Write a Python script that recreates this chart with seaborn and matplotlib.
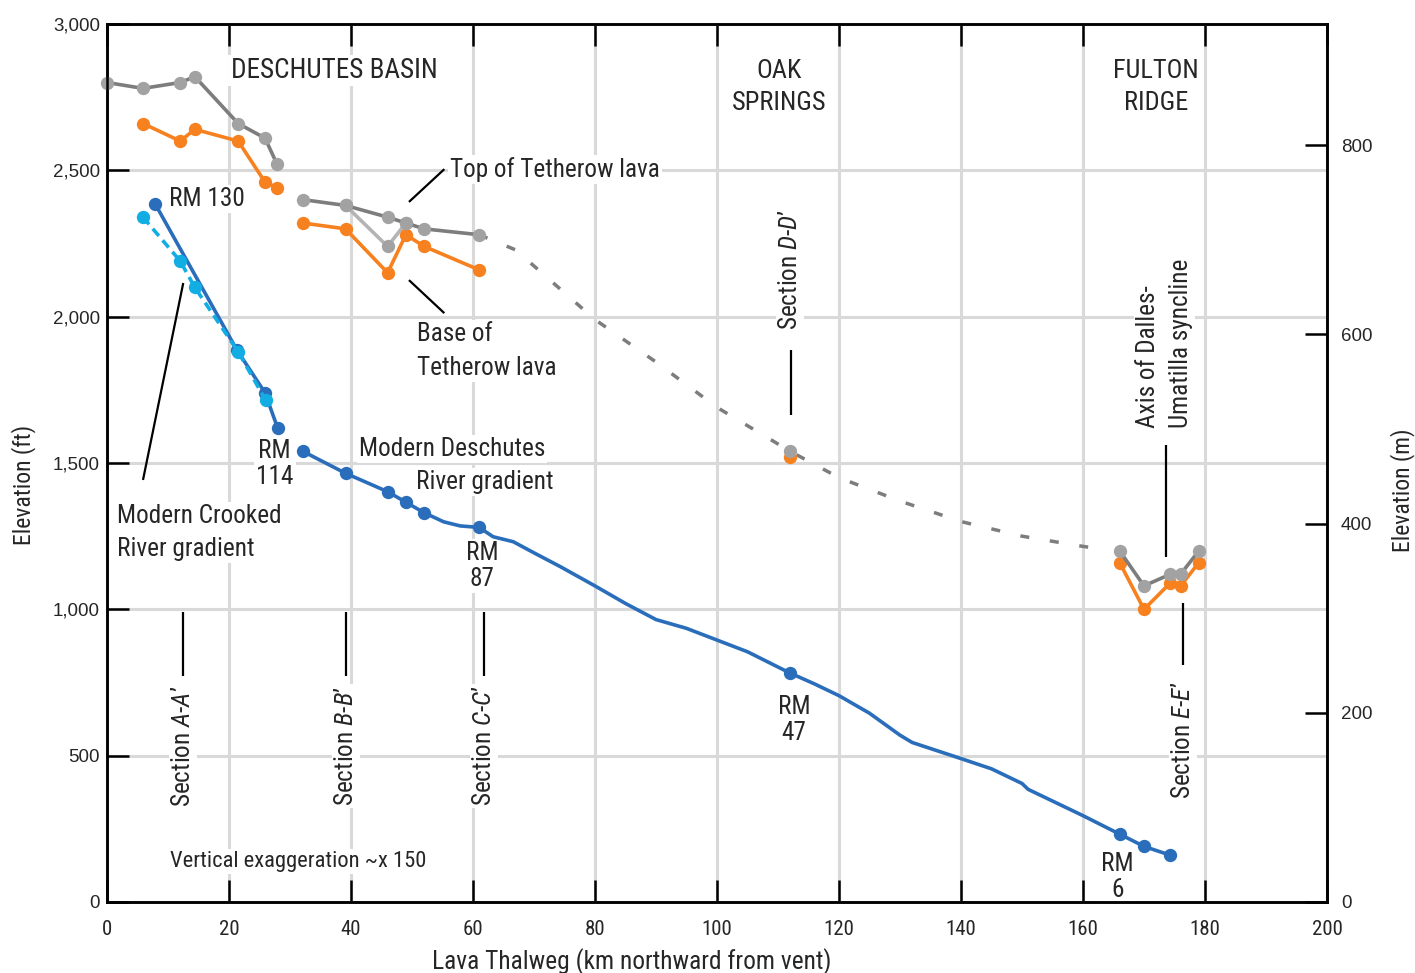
import numpy as np
import pandas as pd
import matplotlib
matplotlib.use("Agg")
import matplotlib.pyplot as plt
from matplotlib import font_manager
import seaborn as sns

# ---------------------------------------------------------------- data
# distance along the lava thalweg (km) and elevation (ft)

# top of the Tetherow lava, Deschutes basin reaches
top1_km = [0, 5.9, 12.0, 14.4, 21.5, 25.9, 27.9]
top1_ft = [2800, 2780, 2800, 2820, 2660, 2610, 2520]
top2_km = [32.1, 39.1, 46.0, 49.0, 52.0, 61.0]
top2_ft = [2400, 2380, 2340, 2320, 2300, 2280]
top2_alt_km = [39.1, 46.0, 49.0]
top2_alt_ft = [2380, 2240, 2320]

# base of the Tetherow lava
base1_km = [5.9, 12.0, 14.4, 21.5, 25.9, 27.9]
base1_ft = [2660, 2600, 2640, 2600, 2460, 2440]
base2_km = [32.1, 39.1, 46.0, 49.0, 52.0, 61.0]
base2_ft = [2320, 2300, 2150, 2280, 2240, 2160]

# Oak Springs outcrop
oak_km = [112.0]
oak_top_ft = [1540]
oak_base_ft = [1520]

# Fulton Ridge outcrops
fulton_km = [166, 170, 174.3, 176, 179]
fulton_top_ft = [1200, 1080, 1120, 1120, 1200]
fulton_base_ft = [1160, 1000, 1090, 1080, 1160]

# inferred lava top between outcrops
inferred_km = [61, 67, 80, 90, 100, 112, 120, 130, 140, 150, 160, 163.5]
inferred_ft = [2280, 2228, 1990, 1845, 1690, 1540, 1450, 1370, 1300, 1250, 1215, 1205]

# modern Crooked River gradient (two profiles)
crook_km = [7.9, 21.3, 25.9, 28.0]
crook_ft = [2385, 1886, 1740, 1618]
crook_alt_km = [5.9, 12.0, 14.4, 21.5, 26.0]
crook_alt_ft = [2340, 2190, 2100, 1880, 1715]

# modern Deschutes River gradient
desch_km = [32.1, 39.1, 46.0, 49.0, 52.0, 55.2, 57.9, 61.0, 63.3, 66.6, 70, 74.3,
            80, 85, 90, 95, 100, 105, 112, 116, 120, 125, 130, 132, 140, 145,
            150, 151, 160, 166, 170, 174.3]
desch_ft = [1540, 1465, 1402, 1366, 1330, 1299, 1285, 1280, 1248, 1231, 1193, 1146,
            1080, 1020, 965, 935, 895, 855, 782, 745, 705, 645, 570, 545, 490, 455,
            405, 385, 295, 232, 190, 160]
desch_marked = [0, 1, 2, 3, 4, 7, 18, 29, 30, 31]

x_ticks = list(range(0, 201, 20))
y_ticks_ft = list(range(0, 3001, 500))
y_ticks_m = [0, 200, 400, 600, 800]

# ---------------------------------------------------------------- style
sns.set_theme(style="white")
installed = {f.name for f in font_manager.fontManager.ttflist}
COND = next((n for n in ["Liberation Sans Narrow", "Roboto Condensed", "Open Sans Condensed"]
             if n in installed), "Liberation Sans")
K = 1.0 if COND != "Liberation Sans" else 0.84
plt.rcParams["font.family"] = [COND, "DejaVu Sans"]
plt.rcParams["mathtext.fontset"] = "custom"
plt.rcParams["mathtext.rm"] = COND
plt.rcParams["mathtext.it"] = COND + ":italic"
plt.rcParams["axes.linewidth"] = 1.8

GRAY = "#7d7d7d"
GRAY_MK = "#a2a2a2"
GRAY_LT = "#b4b4b4"
ORANGE = "#f7811f"
BLUE = "#2a6ebb"
CYAN = "#12ade3"
GRID = "#d9d9d9"
TXT = 18.2 * K

fig = plt.figure(figsize=(14.15, 9.73), dpi=100)
ax = fig.add_axes([107 / 1415, 1 - 902 / 973, 1220 / 1415, 878 / 973])
ax.set_xlim(0, 200)
ax.set_ylim(0, 3000)
ax.set_axisbelow(True)
ax.grid(True, color=GRID, linewidth=2.2)
for s in ax.spines.values():
    s.set_color("black")
    s.set_linewidth(1.8)


def trace(km, ft, color, mcolor=None, ls="-", marker="o", lw=2.6, z=4):
    sns.lineplot(x=km, y=ft, ax=ax, color=color, linewidth=lw, linestyle=ls,
                 marker=marker, markersize=9.6, markerfacecolor=mcolor or color,
                 markeredgewidth=0, sort=False, estimator=None, clip_on=False,
                 zorder=z, legend=False)


# inferred connection (dotted)
sns.lineplot(x=inferred_km, y=inferred_ft, ax=ax, color=GRAY, linewidth=2.5,
             linestyle=(0, (2.6, 6.0)), sort=False, estimator=None, zorder=3,
             legend=False)

# lava top / base
trace(top2_alt_km, top2_alt_ft, GRAY_LT, GRAY_MK, z=3.5)
trace(base1_km, base1_ft, ORANGE)
trace(base2_km, base2_ft, ORANGE)
trace(oak_km, oak_base_ft, ORANGE)
trace(fulton_km, fulton_base_ft, ORANGE)
trace(top1_km, top1_ft, GRAY, GRAY_MK, z=5)
trace(top2_km, top2_ft, GRAY, GRAY_MK, z=5)
trace(oak_km, oak_top_ft, GRAY, GRAY_MK, z=5)
trace(fulton_km, fulton_top_ft, GRAY, GRAY_MK, z=5)

# modern river gradients
trace(crook_km, crook_ft, BLUE, z=4)
trace(crook_alt_km, crook_alt_ft, CYAN, ls=(0, (2.6, 1.6)), z=4.5)
sns.lineplot(x=desch_km, y=desch_ft, ax=ax, color=BLUE, linewidth=2.6, sort=False,
             estimator=None, zorder=4, legend=False)
sns.scatterplot(x=[desch_km[i] for i in desch_marked], y=[desch_ft[i] for i in desch_marked],
                ax=ax, color=BLUE, s=92, linewidth=0, zorder=4.5, legend=False)

# ---------------------------------------------------------------- axes
ax.set_xticks(x_ticks, labels=[str(v) for v in x_ticks], fontsize=15 * K, family=COND)
ax.set_yticks(y_ticks_ft, labels=[f"{v:,}" for v in y_ticks_ft], fontsize=13.5,
              family="Liberation Sans")
ax.tick_params(axis="x", direction="in", length=16, width=1.8, color="black",
               top=True, bottom=True, labeltop=False, pad=13)
ax.tick_params(axis="y", direction="in", length=16, width=1.8, color="black",
               left=True, right=False, pad=5)

ax.set_xlabel("Lava Thalweg (km northward from vent)", fontsize=18.3 * K, family=COND)
ax.xaxis.set_label_coords(0.43, -0.053)
ax.set_ylabel("Elevation (ft)", fontsize=17 * K, family=COND)
ax.yaxis.set_label_coords(-0.058, 0.475)

ax2 = ax.twinx()
ax2.set_ylim(0, 928)
ax2.set_yticks(y_ticks_m, labels=[str(v) for v in y_ticks_m], fontsize=13.5,
               family="Liberation Sans")
ax2.tick_params(axis="y", direction="in", length=16, width=1.8, color="black",
                right=True, left=False, pad=10)
ax2.grid(False)
for s in ax2.spines.values():
    s.set_color("black")
    s.set_linewidth(1.8)
ax2.set_ylabel("Elevation (m)", fontsize=17 * K, family=COND)
ax2.yaxis.set_label_coords(1.052, 0.469)

# ---------------------------------------------------------------- annotations
BOX = dict(facecolor="white", edgecolor="none", pad=1.5)


def note(x, y, s, ha="center", va="center", rot=0, ma=None, ls=1.2, size=None):
    ax.text(x, y, s, ha=ha, va=va, rotation=rot, fontsize=size or TXT, bbox=BOX,
            zorder=2, multialignment=ma or ha, linespacing=ls, rotation_mode="anchor")


def leader(x0, y0, x1, y1):
    ax.plot([x0, x1], [y0, y1], color="black", linewidth=1.6, zorder=2.2,
            solid_capstyle="butt")


note(37.2, 2840, "DESCHUTES BASIN", size=19.5 * K)
note(110.2, 2785, "OAK\nSPRINGS", ls=1.43, size=19 * K)
note(172.0, 2785, "FULTON\nRIDGE", ls=1.43, size=19 * K)

note(56.2, 2504, "Top of Tetherow lava", ha="left")
leader(49.5, 2392, 55.3, 2504)
note(50.8, 1883, "Base of\nTetherow lava", ha="left", ls=1.52)
leader(49.5, 2125, 55.3, 2012)

note(10.2, 2402, "RM 130", ha="left")
note(27.5, 1496, "RM\n114", ls=1.12)
note(56.6, 1548, "Modern Deschutes")
note(62.0, 1435, "River gradient")
note(1.6, 1263, "Modern Crooked\nRiver gradient", ha="left", ls=1.48)
leader(5.9, 1442, 12.5, 2115)

note(61.5, 1148, "RM\n87", ls=1.12)
note(112.6, 622, "RM\n47", ls=1.12)
note(165.6, 86, "RM\n6", ls=1.12)
note(10.3, 140, "Vertical exaggeration ~x 150", ha="left", size=16.2 * K)

for xk, letter in [(12.5, "A"), (39.2, "B"), (61.8, "C")]:
    note(xk, 533, f"Section $\\mathit{{{letter}}}$-$\\mathit{{{letter}\u2019}}$", rot=90)
    leader(xk, 991, xk, 772)

note(112.0, 2159, "Section $\\mathit{D}$-$\\mathit{D\u2019}$", rot=90)
leader(112.1, 1886, 112.1, 1664)
note(176.4, 553, "Section $\\mathit{E}$-$\\mathit{E\u2019}$", rot=90)
leader(176.4, 1022, 176.4, 810)

ax.text(173.4, 1620, "Axis of Dalles-\nUmatilla syncline", rotation=90,
        rotation_mode="anchor", ha="left", va="center", multialignment="left",
        fontsize=TXT, bbox=BOX, zorder=2, linespacing=1.45)
leader(173.6, 1562, 173.6, 1179)

fig.savefig("out.png", dpi=100)
